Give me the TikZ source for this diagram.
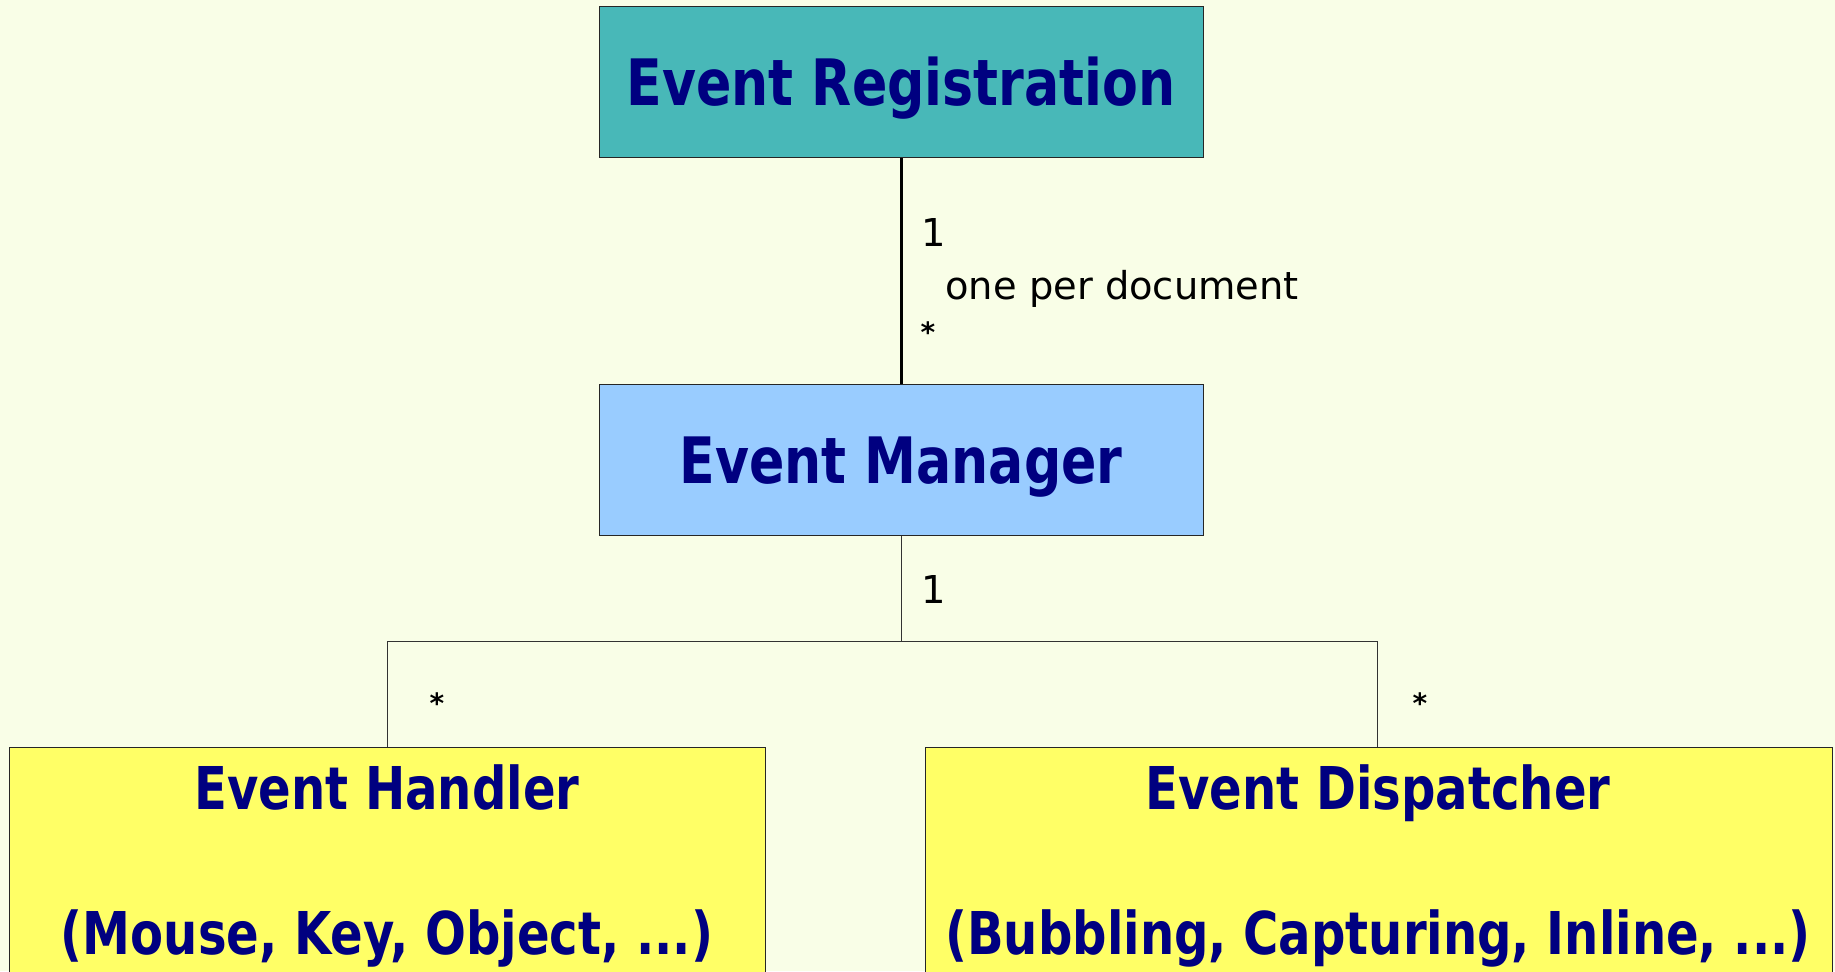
\documentclass[tikz,border=0pt]{standalone}
\usepackage{fontspec}
\setmainfont{DejaVu Sans}
\newfontfamily\titlefont[FakeStretch=0.906]{DejaVu Sans Condensed}
\newfontfamily\labelfont{DejaVu Sans}
\definecolor{bgc}{HTML}{F9FEE7}
\definecolor{tealc}{HTML}{48B8B8}
\definecolor{bluec}{HTML}{99CCFF}
\definecolor{yellowc}{HTML}{FFFF66}
\definecolor{navyc}{HTML}{000080}
\tikzset{
  umlbox/.style={draw=black!85, line width=0.6pt, anchor=north west, inner sep=0pt},
  titletext/.style={text=navyc, anchor=base, inner sep=0pt, font=\titlefont\fontsize{32}{36}\selectfont\bfseries},
  subtext/.style={text=navyc, anchor=base, inner sep=0pt, font=\titlefont\fontsize{29.5}{34}\selectfont\bfseries},
  multlabel/.style={text=black, anchor=base west, inner sep=0pt, font=\labelfont\fontsize{19.2}{23}\selectfont},
  starlabel/.style={text=black, inner sep=0pt, font=\labelfont\fontsize{14}{16}\selectfont\bfseries},
  thinline/.style={draw=black!80, line width=0.5pt},
  thickline/.style={draw=black, line width=1.6pt}
}
\begin{document}
\begin{tikzpicture}[x=0.5pt,y=-0.5pt]
\fill[bgc] (0,0) rectangle (1835,971);
\useasboundingbox (0,0) rectangle (1835,971);
% boxes
\node[umlbox, fill=tealc, minimum width=302pt, minimum height=75.5pt] (er) at (599,6) {};
\node[titletext] (ert) at (901,105) {Event Registration};
\node[umlbox, fill=bluec, minimum width=302pt, minimum height=75.5pt] (em) at (599,384) {};
\node[titletext] (emt) at (901,483) {Event Manager};
\node[umlbox, fill=yellowc, minimum width=378pt, minimum height=130pt] (eh) at (9,747) {};
\node[subtext] (eht1) at (387,809) {Event Handler};
\node[subtext] (eht2) at (387,954) {(Mouse, Key, Object, ...)};
\node[umlbox, fill=yellowc, minimum width=453.5pt, minimum height=130pt] (ed) at (925,747) {};
\node[subtext] (edt1) at (1378,809) {Event Dispatcher};
\node[subtext] (edt2) at (1378,954) {(Bubbling, Capturing, Inline, ...)};
% connectors
\draw[thickline] (er.south) -- (em.north);
\coordinate (jl) at (387,641);
\coordinate (jr) at (1377,641);
\draw[thinline] (em.south) -- (em.south |- jl);
\draw[thinline] (jl) -- (jr);
\draw[thinline] (jl) -- (jl |- eh.north);
\draw[thinline] (jr) -- (jr |- ed.north);
% labels
\node[multlabel] (l1) at (921,246) {1};
\node[multlabel] (lone) at (945,299) {one per document};
\node[starlabel] (ls1) at (928,332) {*};
\node[multlabel] (l2) at (921,603) {1};
\node[starlabel] (ls2) at (437,703) {*};
\node[starlabel] (ls3) at (1420,703) {*};
\end{tikzpicture}
\end{document}
